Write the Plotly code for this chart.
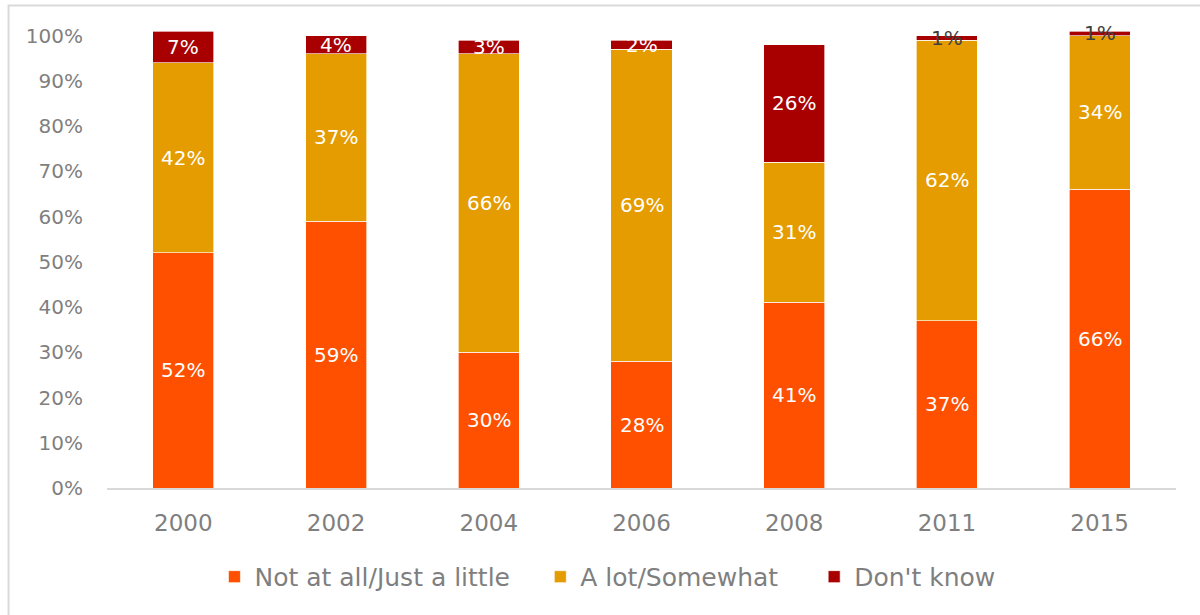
import plotly.graph_objects as go

# Survey waves and the share of answers in each group (percent)
years = ["2000", "2002", "2004", "2006", "2008", "2011", "2015"]
not_at_all = [52, 59, 30, 28, 41, 37, 66]
a_lot = [42, 37, 66, 69, 31, 62, 34]
dont_know = [7, 4, 3, 2, 26, 1, 1]

series_names = ["Not at all/Just a little", "A lot/Somewhat", "Don't know"]
series_values = [not_at_all, a_lot, dont_know]
series_colors = ["#FF5000", "#E59C00", "#A80000"]

y_ticks = list(range(0, 101, 10))
y_tick_text = [f"{t}%" for t in y_ticks]

# Page geometry
W, H = 1200, 615
ML, MR, MT, MB = 106.5, 24, 30.5, 127
PW, PH = W - ML - MR, H - MT - MB
FONT = "'DejaVu Sans', 'Century Gothic', sans-serif"
GRAY = "#7F7F7F"


def px_to_paper_x(px):
    return (px - ML) / PW


def px_to_paper_y(py):
    return (H - MB - py) / PH


fig = go.Figure()
legend_ids = ["legend", "legend2", "legend3"]
for name, vals, color, lg in zip(series_names, series_values, series_colors, legend_ids):
    fig.add_trace(go.Bar(
        x=years, y=vals, name=name,
        marker=dict(color=color, line=dict(color="rgba(255,255,255,0.8)", width=0.8)),
        legend=lg,
        hoverinfo="skip",
    ))

# Value labels centred in each segment (x given as category index,
# since the year strings would otherwise be read as numbers)
annotations = []
for i, yr in enumerate(years):
    base = 0
    for vals in series_values:
        v = vals[i]
        mid = base + v / 2
        base += v
        annotations.append(dict(
            x=i, y=mid, xref="x", yref="y", text=f"{v}%", showarrow=False,
            font=dict(family=FONT, size=20, color="#404040" if v <= 1 else "white"),
        ))

# Chart frame: left and top edges
shapes = [dict(
    type="path", xref="paper", yref="paper",
    path=(f"M {px_to_paper_x(8)} {px_to_paper_y(620)} "
          f"L {px_to_paper_x(8)} {px_to_paper_y(5)} "
          f"L {px_to_paper_x(1205)} {px_to_paper_y(5)}"),
    line=dict(color="#D9D9D9", width=2),
)]

legend_common = dict(
    orientation="h", yanchor="middle", y=px_to_paper_y(577), xanchor="left",
    font=dict(family=FONT, size=25, color=GRAY), bgcolor="rgba(0,0,0,0)",
    itemclick=False, itemdoubleclick=False,
)

fig.update_layout(
    width=W, height=H,
    margin=dict(l=ML, r=MR, t=MT, b=MB, pad=0),
    barmode="stack", bargap=0.6,
    plot_bgcolor="white", paper_bgcolor="white",
    font=dict(family=FONT, size=20, color=GRAY),
    xaxis=dict(
        type="category", categoryorder="array", categoryarray=years,
        range=[-0.5, len(years) - 0.5],
        showgrid=False, showline=True, linecolor="#D9D9D9", linewidth=1.5,
        ticks="", ticklabelstandoff=14, tickfont=dict(family=FONT, size=23, color=GRAY),
        fixedrange=True,
    ),
    yaxis=dict(
        range=[0, 101], tickvals=y_ticks, ticktext=y_tick_text, showgrid=False,
        zeroline=False, showline=False, ticks="", ticklabelstandoff=23,
        tickfont=dict(family=FONT, size=20, color=GRAY), fixedrange=True,
    ),
    legend=dict(x=px_to_paper_x(214), **legend_common),
    legend2=dict(x=px_to_paper_x(540), **legend_common),
    legend3=dict(x=px_to_paper_x(814), **legend_common),
    annotations=annotations,
    shapes=shapes,
    showlegend=True,
)

fig.write_html("out.html")
